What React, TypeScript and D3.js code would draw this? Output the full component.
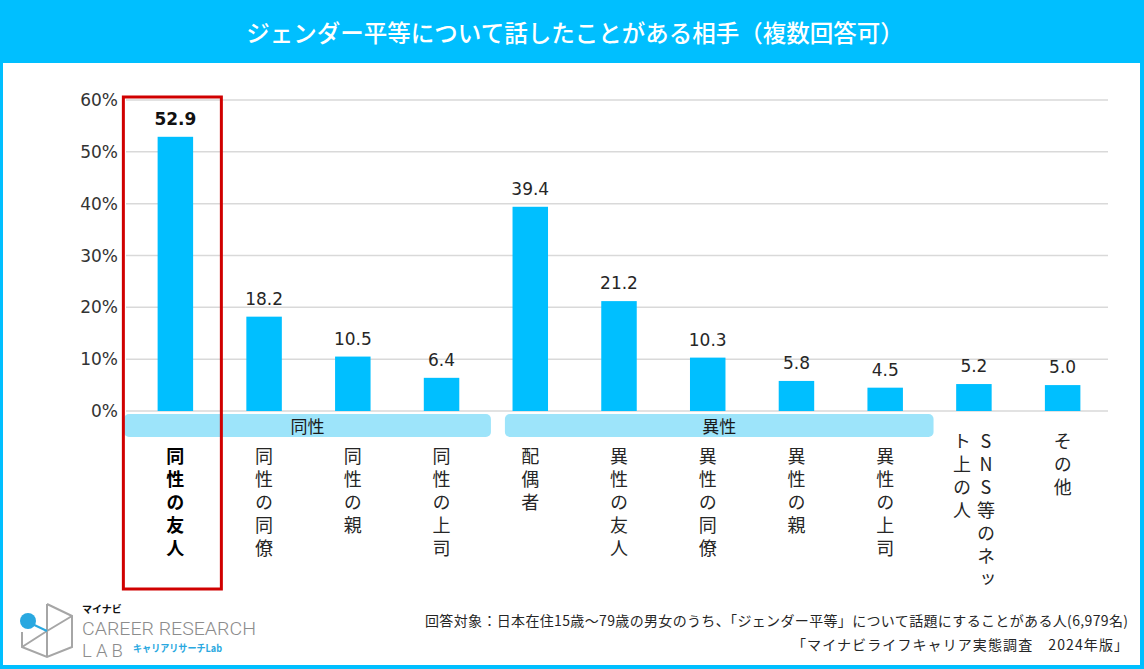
import React from "react";
import * as d3 from "d3";

const categories = [
  "同性の友人",
  "同性の同僚",
  "同性の親",
  "同性の上司",
  "配偶者",
  "異性の友人",
  "異性の同僚",
  "異性の親",
  "異性の上司",
  "SNS等のネット上の人",
  "その他",
];
const values = [52.9, 18.2, 10.5, 6.4, 39.4, 21.2, 10.3, 5.8, 4.5, 5.2, 5.0];
const yTicks = [0, 10, 20, 30, 40, 50, 60];
const groupLabels = ["同性", "異性"];
const groupStart = [0, 4];
const groupEnd = [3, 8];
const title = "ジェンダー平等について話したことがある相手（複数回答可）";
const note1 = "回答対象：日本在住15歳～79歳の男女のうち、「ジェンダー平等」について話題にすることがある人(6,979名)";
const note2 = "「マイナビライフキャリア実態調査　2024年版」";

const W = 1144;
const H = 669;
const CYAN = "#00BFFF";
const BAND = "#9DE4FA";
const JP = "'Noto Sans CJK JP', 'Noto Sans', sans-serif";
const NUM = "'DejaVu Sans', Verdana, sans-serif";
const LOGO = "Roboto, 'Noto Sans', sans-serif";

export default function App() {
  const x = d3
    .scaleBand<string>()
    .domain(categories)
    .range([131, 1107])
    .paddingInner(0.6)
    .paddingOuter(0.3);
  const y = d3.scaleLinear().domain([0, 60]).range([411, 100]);
  const step = x.step();
  const cx = (i: number) => (x(categories[i]) as number) + x.bandwidth() / 2;

  const groupPadL = [-7, 19];
  const groupPadR = [5, 4];

  const inGroup = (i: number) => groupStart.some((s, g) => i >= s && i <= groupEnd[g]);

  return (
    <svg
      width={W}
      height={H}
      style={{ position: "absolute", left: 0, top: 0, display: "block" }}
    >
      <rect x={0} y={0} width={W} height={H} fill={CYAN} />
      <rect x={3} y={63} width={1137} height={602} fill="#ffffff" />
      <text
        x={575}
        y={32}
        textAnchor="middle"
        dominantBaseline="central"
        fill="#ffffff"
        fontFamily={JP}
        fontSize={23.5}
        fontWeight={500}
      >
        {title}
      </text>

      {/* gridlines */}
      {yTicks.map((t) => (
        <g key={t}>
          <line x1={126} x2={1108} y1={y(t)} y2={y(t)} stroke="#D9D9D9" strokeWidth={1.5} />
          <text
            x={118}
            y={y(t)}
            textAnchor="end"
            dominantBaseline="central"
            fontFamily={NUM}
            fontSize={17}
            fill="#333333"
          >
            {t}%
          </text>
        </g>
      ))}

      {/* bars */}
      {values.map((v, i) => (
        <g key={i}>
          <rect
            x={x(categories[i])}
            y={y(v)}
            width={x.bandwidth()}
            height={y(0) - y(v)}
            fill={CYAN}
          />
          <text
            x={cx(i)}
            y={y(v) - 12}
            textAnchor="middle"
            fontFamily={NUM}
            fontSize={17}
            fontWeight={i === 0 ? "bold" : "normal"}
            fill={i === 0 ? "#111111" : "#262626"}
          >
            {v.toFixed(1)}
          </text>
        </g>
      ))}

      {/* group bands */}
      {groupLabels.map((g, k) => {
        const x0 = cx(groupStart[k]) - step / 2 + groupPadL[k];
        const x1 = cx(groupEnd[k]) + step / 2 + groupPadR[k];
        return (
          <g key={g}>
            <rect x={x0} y={414} width={x1 - x0} height={23} rx={5} fill={BAND} />
            <text
              x={(x0 + x1) / 2}
              y={425.5}
              textAnchor="middle"
              dominantBaseline="central"
              fontFamily={JP}
              fontSize={17}
              fill="#1a1a1a"
            >
              {g}
            </text>
          </g>
        );
      })}

      {/* category labels (vertical) */}
      {categories.map((c, i) => {
        const chars = Array.from(c);
        const perCol = 7;
        const cols: string[] = [];
        for (let k = 0; k < chars.length; k += perCol) cols.push(chars.slice(k, k + perCol).join(""));
        const y0 = inGroup(i) ? 447 : 432;
        const nCols = cols.length;
        return (
          <g key={c}>
            {cols.map((col, ci) => {
              const colX = cx(i) + ((nCols - 1) / 2 - ci) * 24;
              return (
                <text
                  key={ci}
                  x={colX}
                  y={y0}
                  style={{ writingMode: "vertical-rl", textOrientation: "upright" } as any}
                  letterSpacing={5}
                  fontFamily={JP}
                  fontSize={18}
                  fontWeight={i === 0 ? "bold" : "normal"}
                  fill={i === 0 ? "#000000" : "#262626"}
                >
                  {col}
                </text>
              );
            })}
          </g>
        );
      })}

      {/* highlight box */}
      <rect
        x={cx(0) - 52}
        y={97}
        width={98}
        height={492}
        fill="none"
        stroke="#D00000"
        strokeWidth={3}
      />

      {/* notes */}
      <text x={1128} y={620} textAnchor="end" dominantBaseline="central" fontFamily={JP} fontSize={14} fill="#262626" textLength={703} lengthAdjust="spacing">
        {note1}
      </text>
      <text x={1128} y={644} textAnchor="end" dominantBaseline="central" fontFamily={JP} fontSize={14} fill="#262626" textLength={336} lengthAdjust="spacing">
        {note2}
      </text>

      {/* logo */}
      <g>
        <path
          d="M47,604 L72,616 L72,647 L47,657 L22,647 L22,632 M47,604 L47,657 M47,631 L72,616 M47,631 L22,647"
          fill="none"
          stroke="#A6A6A6"
          strokeWidth={2}
        />
        <line x1={28} y1={622} x2={47} y2={631} stroke="#29A8E0" strokeWidth={2} />
        <circle cx={28} cy={621} r={8} fill="#29A8E0" />
        <text x={82} y={613} fontFamily={JP} fontSize={10} fontWeight="bold" fill="#111">
          マイナビ
        </text>
        <text x={82} y={635} fontFamily={LOGO} fontSize={19} fontWeight={300} fill="#8C8C8C" textLength={174} lengthAdjust="spacingAndGlyphs">
          CAREER RESEARCH
        </text>
        <text x={82} y={657} fontFamily={LOGO} fontSize={18.5} fontWeight={300} fill="#8C8C8C" letterSpacing={4}>
          LAB
        </text>
        <text x={133} y={652} fontFamily={JP} fontSize={10} fontWeight="bold" fill="#29A8E0" textLength={89} lengthAdjust="spacingAndGlyphs">
          キャリアリサーチLab
        </text>
      </g>
    </svg>
  );
}
